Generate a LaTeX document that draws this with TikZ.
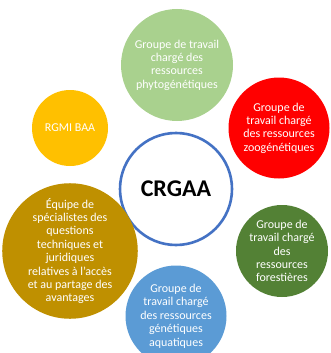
\documentclass[tikz,border=0pt]{standalone}
\usepackage{fontspec}
\setmainfont{Carlito}
\definecolor{leafgreen}{HTML}{A9D18E}
\definecolor{zoored}{HTML}{FF0000}
\definecolor{amber}{HTML}{FFC000}
\definecolor{ochre}{HTML}{BF9000}
\definecolor{forest}{HTML}{538135}
\definecolor{sea}{HTML}{5B9BD5}
\definecolor{ring}{HTML}{4472C4}
\begin{document}
\begin{tikzpicture}[x=1pt,y=-1pt,
  group/.style={circle, inner sep=0pt, draw=none, text=white, align=center,
    font=\fontsize{12}{13.4}\selectfont},
  hub/.style={circle, inner sep=0pt, fill=white, draw=ring, line width=2.6pt,
    font=\fontsize{24}{28}\selectfont\bfseries}]
  \useasboundingbox (0,0) rectangle (331,353);
  \clip (0,0) rectangle (331,353);
  % central committee
  \node[hub, minimum size=112pt] (crgaa) at (176,189) {CRGAA};
  % working groups around it
  \node[group, fill=leafgreen, minimum size=112pt] (plant) at (177,65)
    {Groupe de travail\\chargé des\\ressources\\phytogénétiques};
  \node[group, fill=zoored, minimum size=101pt] (animal) at (279,128)
    {Groupe de\\travail chargé\\des ressources\\zoogénétiques};
  \node[group, fill=amber, minimum size=76pt] (rgmi) at (70,128) {RGMI BAA};
  \node[group, fill=ochre, minimum size=121pt] (abs) at (70,251)
    {Équipe de\\spécialistes des\\questions\\techniques et\\juridiques\\relatives à l’accès\\et au partage des\\avantages};
  \node[group, fill=forest, minimum size=92pt] (forest) at (282,251)
    {Groupe de\\travail chargé\\des\\ressources\\forestières};
  \node[group, fill=sea, minimum size=101pt] (aqua) at (176,316)
    {Groupe de\\travail chargé\\des ressources\\génétiques\\aquatiques};
\end{tikzpicture}
\end{document}
